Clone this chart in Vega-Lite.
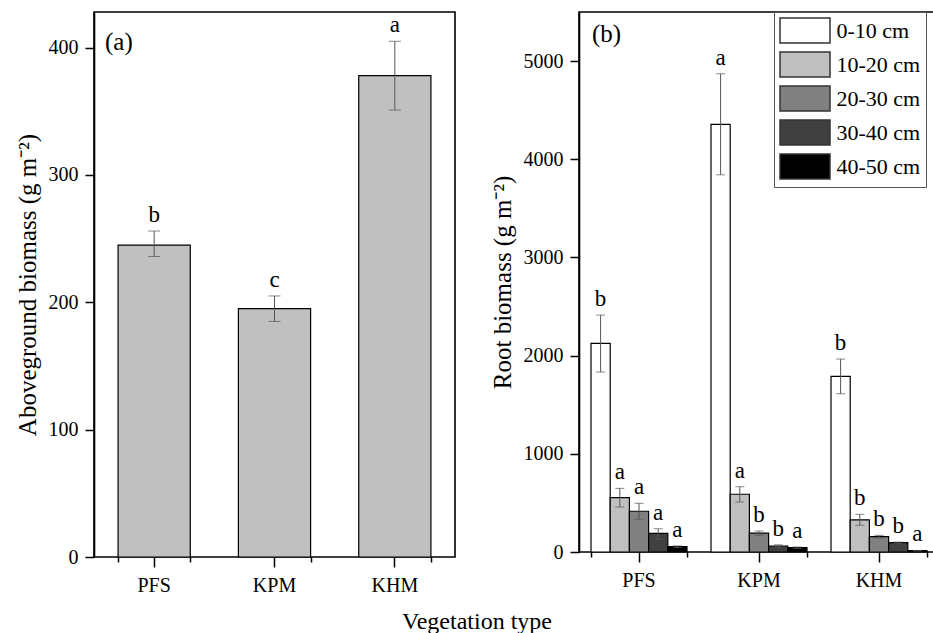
{
  "$schema": "https://vega.github.io/schema/vega-lite/v6.json",
  "padding": {"left": 14, "top": 11, "right": 0, "bottom": 2},
  "config": {
    "font": "Liberation Serif",
    "view": {"stroke": "#000", "strokeWidth": 1.6},
    "axis": {"grid": false, "domainColor": "#000", "tickColor": "#000", "labelColor": "#000", "titleColor": "#000", "labelFont": "Liberation Serif", "titleFont": "Liberation Serif", "labelFontSize": 20, "titleFontSize": 25, "titleFontWeight": "normal", "tickWidth": 1.5, "domainWidth": 1.6},
    "title": {"font": "Liberation Serif", "fontWeight": "normal", "color": "#000"}
  },
  "title": {"text": "Vegetation type", "orient": "bottom", "anchor": "middle", "fontSize": 24, "offset": 14},
  "datasets": {
    "agdata": [
      {"veg": "PFS", "mean": 245, "lo": 236, "hi": 256, "sig": "b"},
      {"veg": "KPM", "mean": 195, "lo": 185, "hi": 205, "sig": "c"},
      {"veg": "KHM", "mean": 378, "lo": 351, "hi": 405, "sig": "a"}
    ],
    "rbdata": [
      {"veg": "PFS", "depth": "0-10 cm", "mean": 2125, "lo": 1833, "hi": 2413, "sig": "b"},
      {"veg": "PFS", "depth": "10-20 cm", "mean": 553, "lo": 458, "hi": 648, "sig": "a"},
      {"veg": "PFS", "depth": "20-30 cm", "mean": 415, "lo": 333, "hi": 496, "sig": "a"},
      {"veg": "PFS", "depth": "30-40 cm", "mean": 190, "lo": 129, "hi": 237, "sig": "a"},
      {"veg": "PFS", "depth": "40-50 cm", "mean": 54, "lo": 46, "hi": 62, "sig": "a"},
      {"veg": "KPM", "depth": "0-10 cm", "mean": 4355, "lo": 3842, "hi": 4871, "sig": "a"},
      {"veg": "KPM", "depth": "10-20 cm", "mean": 588, "lo": 509, "hi": 665, "sig": "a"},
      {"veg": "KPM", "depth": "20-30 cm", "mean": 192, "lo": 170, "hi": 214, "sig": "b"},
      {"veg": "KPM", "depth": "30-40 cm", "mean": 61, "lo": 49, "hi": 73, "sig": "b"},
      {"veg": "KPM", "depth": "40-50 cm", "mean": 44, "lo": 37, "hi": 51, "sig": "a"},
      {"veg": "KHM", "depth": "0-10 cm", "mean": 1789, "lo": 1612, "hi": 1965, "sig": "b"},
      {"veg": "KHM", "depth": "10-20 cm", "mean": 328, "lo": 272, "hi": 384, "sig": "b"},
      {"veg": "KHM", "depth": "20-30 cm", "mean": 156, "lo": 143, "hi": 170, "sig": "b"},
      {"veg": "KHM", "depth": "30-40 cm", "mean": 95, "lo": 89, "hi": 101, "sig": "b"},
      {"veg": "KHM", "depth": "40-50 cm", "mean": 13, "lo": 10, "hi": 16, "sig": "a"}
    ]
  },
  "spacing": 33,
  "hconcat": [
    {
      "width": 361,
      "height": 545,
      "data": {"name": "agdata"},
      "title": {"text": "(a)", "anchor": "start", "frame": "group", "orient": "top", "offset": -43, "dx": 11, "fontSize": 25},
      "resolve": {"scale": {"x": "independent"}, "axis": {"x": "independent"}},
      "layer": [
        {
          "mark": {"type": "bar", "fill": "#c0c0c0", "stroke": "#000", "strokeWidth": 1.2},
          "encoding": {
            "x": {"field": "veg", "type": "nominal", "sort": ["PFS", "KPM", "KHM"], "scale": {"paddingInner": 0.4, "paddingOuter": 0.2},
              "axis": {"orient": "bottom", "title": null, "labelAngle": 0, "tickSize": 10, "labelPadding": 8, "domain": false}},
            "y": {"field": "mean", "type": "quantitative", "scale": {"domain": [0, 428], "nice": false}, "title": "Aboveground biomass (g m⁻²)",
              "axis": {"values": [0, 100, 200, 300, 400], "tickSize": 9, "labelPadding": 7, "titlePadding": 8}}
          }
        },
        {
          "mark": {"type": "errorbar", "ticks": {"size": 12, "color": "#555"}, "rule": {"color": "#555"}},
          "encoding": {
            "x": {"field": "veg", "type": "nominal", "sort": ["PFS", "KPM", "KHM"], "scale": {"paddingInner": 0.4, "paddingOuter": 0.2}, "axis": null},
            "y": {"field": "lo", "type": "quantitative", "title": "Aboveground biomass (g m⁻²)"},
            "y2": {"field": "hi"}
          }
        },
        {
          "mark": {"type": "text", "baseline": "bottom", "dy": -4, "fontSize": 23, "font": "Liberation Serif", "color": "#000"},
          "encoding": {
            "x": {"field": "veg", "type": "nominal", "sort": ["PFS", "KPM", "KHM"], "scale": {"paddingInner": 0.4, "paddingOuter": 0.2},
              "axis": {"orient": "bottom", "title": null, "labels": false, "tickBand": "extent", "tickSize": 5, "domain": false}},
            "y": {"field": "hi", "type": "quantitative", "title": "Aboveground biomass (g m⁻²)"},
            "text": {"field": "sig"}
          }
        }
      ]
    },
    {
      "width": 360,
      "height": 540,
      "data": {"name": "rbdata"},
      "title": {"text": "(b)", "anchor": "start", "frame": "group", "orient": "top", "offset": -35, "dx": 13, "fontSize": 25},
      "resolve": {"scale": {"x": "independent"}, "axis": {"x": "independent"}},
      "layer": [
        {
          "mark": {"type": "bar", "stroke": "#000", "strokeWidth": 1.2},
          "encoding": {
            "x": {"field": "veg", "type": "nominal", "sort": ["PFS", "KPM", "KHM"], "scale": {"paddingInner": 0.2, "paddingOuter": 0.1},
              "axis": {"orient": "bottom", "title": null, "labelAngle": 0, "tickSize": 10, "labelPadding": 8, "domain": false}},
            "xOffset": {"field": "depth", "type": "nominal", "sort": ["0-10 cm", "10-20 cm", "20-30 cm", "30-40 cm", "40-50 cm"], "scale": {"paddingInner": 0, "paddingOuter": 0}},
            "y": {"field": "mean", "type": "quantitative", "scale": {"domain": [0, 5500], "nice": false}, "title": "Root biomass (g m⁻²)",
              "axis": {"values": [0, 1000, 2000, 3000, 4000, 5000], "format": "d", "tickSize": 9, "labelPadding": 7, "titlePadding": 8}},
            "fill": {"field": "depth", "type": "nominal", "sort": ["0-10 cm", "10-20 cm", "20-30 cm", "30-40 cm", "40-50 cm"],
              "scale": {"domain": ["0-10 cm", "10-20 cm", "20-30 cm", "30-40 cm", "40-50 cm"], "range": ["#ffffff", "#c0c0c0", "#808080", "#404040", "#000000"]},
              "legend": {"orient": "none", "legendX": 680, "legendY": 0, "title": null, "symbolType": "M-2,-1H2V1H-2Z", "symbolSize": 625, "symbolOffset": 12.5, "symbolStrokeColor": "#333", "symbolStrokeWidth": 1.5, "labelOffset": 18, "labelFontSize": 22, "labelFont": "Liberation Serif", "labelColor": "#000", "strokeColor": "#555", "fillColor": "#fff", "padding": 5, "rowPadding": 3}}
          }
        },
        {
          "mark": {"type": "errorbar", "ticks": {"size": 9, "color": "#555"}, "rule": {"color": "#555"}},
          "encoding": {
            "x": {"field": "veg", "type": "nominal", "sort": ["PFS", "KPM", "KHM"], "scale": {"paddingInner": 0.2, "paddingOuter": 0.1}, "axis": null},
            "xOffset": {"field": "depth", "type": "nominal", "sort": ["0-10 cm", "10-20 cm", "20-30 cm", "30-40 cm", "40-50 cm"]},
            "y": {"field": "lo", "type": "quantitative", "title": "Root biomass (g m⁻²)"},
            "y2": {"field": "hi"}
          }
        },
        {
          "mark": {"type": "text", "baseline": "bottom", "dy": -4, "fontSize": 23, "font": "Liberation Serif", "color": "#000"},
          "encoding": {
            "x": {"field": "veg", "type": "nominal", "sort": ["PFS", "KPM", "KHM"], "scale": {"paddingInner": 0.2, "paddingOuter": 0.1},
              "axis": {"orient": "bottom", "title": null, "labels": false, "tickBand": "extent", "tickSize": 5, "domain": false}},
            "xOffset": {"field": "depth", "type": "nominal", "sort": ["0-10 cm", "10-20 cm", "20-30 cm", "30-40 cm", "40-50 cm"]},
            "y": {"field": "hi", "type": "quantitative", "title": "Root biomass (g m⁻²)"},
            "text": {"field": "sig"}
          }
        }
      ]
    }
  ]
}
